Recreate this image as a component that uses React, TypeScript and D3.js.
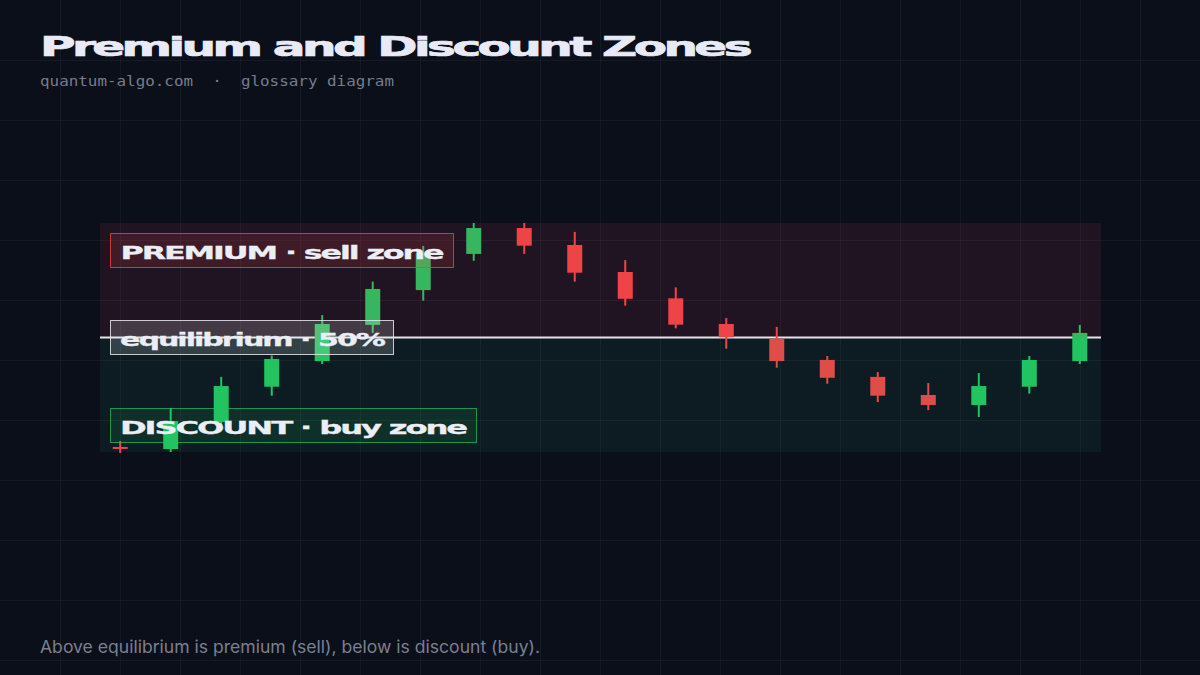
import React from "react";
import * as d3 from "d3";

const W = 1200;
const H = 675;

// Candle data (price units; range low = 100, range high = 200)
const opens = [102.2, 101.3, 113.1, 128.5, 139.7, 155.5, 170.7, 186.5, 197.8, 190.4, 178.6, 167.1, 155.9, 149.5, 140.2, 132.8, 124.9, 120.5, 128.5, 139.7];
const highs = [104.8, 119.2, 132.8, 142.1, 159.8, 174.4, 190.0, 200.0, 200.0, 196.1, 183.8, 171.9, 158.5, 154.6, 141.9, 134.9, 130.1, 134.5, 141.9, 155.5];
const lows = [99.6, 100.0, 109.6, 124.6, 138.4, 152.0, 166.1, 183.5, 186.5, 174.4, 163.9, 154.0, 145.1, 136.8, 129.8, 121.8, 118.3, 115.3, 125.5, 138.4];
const closes = [102.0, 113.5, 128.8, 140.6, 155.9, 171.2, 186.9, 197.8, 190.1, 178.3, 166.9, 155.6, 150.1, 139.7, 132.4, 124.6, 120.5, 128.8, 140.2, 152.0];

const rangeLow = 100;
const rangeHigh = 200;
const equilibrium = (rangeLow + rangeHigh) / 2;

const titleText = "Premium and Discount Zones";
const subtitleText = "quantum-algo.com  ·  glossary diagram";
const footerText = "Above equilibrium is premium (sell), below is discount (buy).";
const premiumLabel = "PREMIUM · sell zone";
const equilibriumLabel = "equilibrium · 50%";
const discountLabel = "DISCOUNT · buy zone";

const GREEN = "#22c55e";
const RED = "#ef4444";
const BG = "#0b0f1a";

export default function App() {
  const idx = d3.range(opens.length);
  const x = d3.scalePoint<number>().domain(idx).range([100, 1100]).padding(0.4);
  const y = d3.scaleLinear().domain([rangeLow, rangeHigh]).range([452, 223]);

  const gridX = d3.range(60, W, 60);
  const gridY = d3.range(60, H, 60);

  const zoneX0 = 100;
  const zoneX1 = 1101;
  const eqY = y(equilibrium);

  const bodyW = 15;
  const wickW = 2;

  const labelFont = "'DejaVu Sans', 'Liberation Sans', sans-serif";

  return (
    <svg
      width={W}
      height={H}
      style={{ position: "absolute", left: 0, top: 0, display: "block" }}
    >
      <rect x={0} y={0} width={W} height={H} fill={BG} />
      {/* grid */}
      <g stroke="#ffffff" strokeOpacity={0.045} strokeWidth={1}>
        {gridX.map((gx) => (
          <line key={"gx" + gx} x1={gx + 0.5} x2={gx + 0.5} y1={0} y2={H} />
        ))}
        {gridY.map((gy) => (
          <line key={"gy" + gy} x1={0} x2={W} y1={gy + 0.5} y2={gy + 0.5} />
        ))}
      </g>

      {/* equilibrium line */}
      <line x1={zoneX0} x2={zoneX1} y1={eqY} y2={eqY} stroke="#eef0f6" strokeWidth={2} />

      {/* candles */}
      <g>
        {idx.map((i) => {
          const cx = x(i) as number;
          const up = closes[i] > opens[i];
          const color = up ? GREEN : RED;
          const top = y(Math.max(opens[i], closes[i]));
          const bot = y(Math.min(opens[i], closes[i]));
          const bh = Math.max(2, bot - top);
          return (
            <g key={i}>
              <rect
                x={cx - wickW / 2}
                y={y(highs[i])}
                width={wickW}
                height={y(lows[i]) - y(highs[i])}
                fill={color}
              />
              <rect x={cx - bodyW / 2} y={top} width={bodyW} height={bh} fill={color} />
            </g>
          );
        })}
      </g>

      {/* zones */}
      <rect x={zoneX0} y={y(rangeHigh)} width={zoneX1 - zoneX0} height={eqY - y(rangeHigh)} fill="#f0466a" fillOpacity={0.1} />
      <rect x={zoneX0} y={eqY} width={zoneX1 - zoneX0} height={y(rangeLow) - eqY} fill="#22c58a" fillOpacity={0.08} />

      {/* labels */}
      <g fontFamily={labelFont} fontWeight={700} fontSize={18} fill="#eceef6" letterSpacing={-1.2} stroke="#eceef6" strokeWidth={0.3}>
        <rect x={110.5} y={233.5} width={343} height={34} fill={RED} fillOpacity={0.14} stroke={RED} strokeOpacity={0.8} strokeWidth={1} />
        <text x={120.5} y={258.5} textLength={322} lengthAdjust="spacingAndGlyphs">{premiumLabel}</text>

        <rect x={110.5} y={320.5} width={283} height={34} fill="#e5e7eb" fillOpacity={0.18} stroke="#e5e7eb" strokeOpacity={0.85} strokeWidth={1} />
        <text x={120} y={346} textLength={264} lengthAdjust="spacingAndGlyphs">{equilibriumLabel}</text>

        <rect x={110.5} y={408.5} width={366} height={34} fill={GREEN} fillOpacity={0.12} stroke={GREEN} strokeOpacity={0.7} strokeWidth={1} />
        <text x={120} y={434} textLength={346} lengthAdjust="spacingAndGlyphs">{discountLabel}</text>
      </g>

      {/* titles */}
      <text x={40} y={56} fontFamily={labelFont} fontWeight={700} fontSize={27} fill="#e8ebf7" stroke="#e8ebf7" strokeWidth={0.7} letterSpacing={-2} textLength={709} lengthAdjust="spacingAndGlyphs">
        {titleText}
      </text>
      <text x={40} y={86} fontFamily="'DejaVu Sans Mono', 'Liberation Mono', monospace" fontSize={14.5} fill="#767c8c" textLength={354} lengthAdjust="spacingAndGlyphs" style={{ whiteSpace: "pre" }}>
        {subtitleText}
      </text>
      <text x={40} y={653} fontFamily="Inter, 'Noto Sans', sans-serif" fontSize={17} fill="#7a8091" textLength={500} lengthAdjust="spacingAndGlyphs">
        {footerText}
      </text>
    </svg>
  );
}
